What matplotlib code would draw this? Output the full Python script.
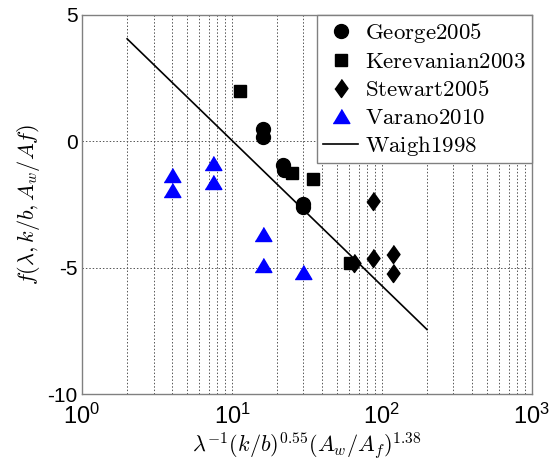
import numpy as np
import matplotlib
matplotlib.use('Agg')
from matplotlib import pyplot as plt
from matplotlib.ticker import NullFormatter

# 各组实验数据
georgeX = [16, 16, 21.8, 22.2, 30, 30]
georgeY = [0.5, 0.17, -0.95, -1.15, -2.5, -2.62]
kerevanianX = [11.3, 25.2, 34.5, 61]
kerevanianY = [2.0, -1.25, -1.5, -4.8]
stewartX = [87, 87, 119, 119, 65]
stewartY = [-2.35, -4.6, -4.47, -5.2, -4.8]
varanoX = [4, 4, 7.5, 7.5, 16, 16, 30]
varanoY = [-1.35, -1.94, -0.88, -1.61, -3.67, -4.91, -5.16]
# Waigh1998 拟合线端点
waighX = [2, 200]
waighY = [4.05, -7.45]

xTicks = [1, 10, 100, 1000]
xTickLabels = ['$10^{0}$', '$10^{1}$', '$10^{2}$', '$10^{3}$']
yTicks = [-10, -5, 0, 5]
yTickLabels = ['-10', '-5', '0', '5']

# 自定义标记: 偏宽的菱形, 偏扁的三角形
diamond = [(0, 1), (0.72, 0), (0, -1), (-0.72, 0)]
triangle = [(-1, -0.84), (1, -0.84), (0, 0.84)]

plt.rcParams['font.family'] = ['Liberation Sans', 'DejaVu Sans']
plt.rcParams['mathtext.fontset'] = 'custom'
plt.rcParams['mathtext.rm'] = 'Liberation Sans'
plt.rcParams['mathtext.it'] = 'Liberation Sans:italic'
plt.rcParams['mathtext.bf'] = 'Liberation Sans:bold'

fig = plt.figure(figsize=(5.54, 4.63), dpi=100)
ax = fig.add_axes([0.148, 0.149, 0.812, 0.819])

ax.plot(georgeX, georgeY, 'o', color='black', markersize=10, label=r'$\mathrm{George2005}$')
ax.plot(kerevanianX, kerevanianY, 's', color='black', markersize=8.4, label=r'$\mathrm{Kerevanian2003}$')
ax.plot(stewartX, stewartY, marker=diamond, linestyle='none', color='black', markersize=13,
        label=r'$\mathrm{Stewart2005}$')
ax.plot(varanoX, varanoY, marker=triangle, linestyle='none', color='#0000ff', markersize=12,
        label=r'$\mathrm{Varano2010}$')
ax.plot(waighX, waighY, '-', color='black', linewidth=1.2, label=r'$\mathrm{Waigh1998}$')

ax.set_xscale('log')
ax.set_xlim(1, 1000)
ax.set_ylim(-10, 5)
ax.set_xticks(xTicks)
ax.set_xticklabels(xTickLabels, fontsize=17)
ax.xaxis.set_minor_formatter(NullFormatter())
ax.set_yticks(yTicks)
ax.set_yticklabels(yTickLabels, fontsize=15)
for t in ax.get_xticklabels():
    t.set_math_fontfamily('custom')
ax.tick_params(which='both', length=0)
ax.tick_params(axis='x', pad=7)
ax.tick_params(axis='y', pad=3)

ax.grid(True, which='major', axis='both', linestyle=(0, (1.5, 2)), color='#555555', linewidth=0.7)
ax.grid(True, which='minor', axis='x', linestyle=(0, (1.5, 2)), color='#555555', linewidth=0.7)
ax.set_axisbelow(True)
for s in ax.spines.values():
    s.set_color('#808080')
    s.set_linewidth(1.0)

xl = ax.set_xlabel(r'$\lambda^{-1}(k/b)^{0.55}(A_w/A_f)^{1.38}$', fontsize=16, labelpad=1)
xl.set_math_fontfamily('cm')
yl = ax.set_ylabel(r'$f(\lambda,k/b,A_w/Af)$', fontsize=16, labelpad=4)
yl.set_math_fontfamily('cm')

leg = ax.legend(loc='upper right', borderaxespad=0, fontsize=16.5, fancybox=False,
                framealpha=1, edgecolor='#808080', handlelength=1.55,
                handletextpad=0.3, labelspacing=0.22, borderpad=0.25, numpoints=1)
leg.get_frame().set_linewidth(1.0)
for t in leg.get_texts():
    t.set_math_fontfamily('cm')

plt.savefig('out.png', dpi=100)
